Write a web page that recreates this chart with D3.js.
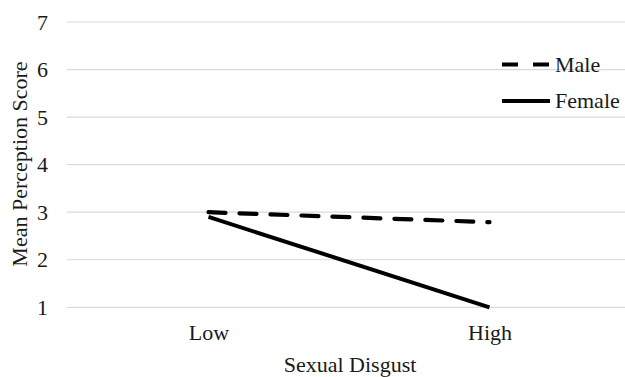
<!DOCTYPE html>
<html>
<head>
<meta charset="utf-8">
<script src="https://cdn.jsdelivr.net/npm/d3@7"></script>
<style>
  html, body { margin: 0; padding: 0; background: #fff; }
</style>
</head>
<body>
<svg id="chart" width="625" height="377"></svg>
<script>
const categories = ["Low", "High"];
const maleValues = [3.0, 2.79];
const femaleValues = [2.9, 1.0];
const yTicks = [1, 2, 3, 4, 5, 6, 7];
const seriesNames = ["Male", "Female"];
const xTitle = "Sexual Disgust";
const yTitle = "Mean Perception Score";

const FONT = "'Times New Roman', 'Liberation Serif', Times, serif";
const FS = 22;
const svg = d3.select("#chart");
const x = d3.scalePoint().domain(categories).range([68, 630]).padding(0.5);
const y = d3.scaleLinear().domain([1, 7]).range([307.3, 22]);

// gridlines
svg.append("g").selectAll("line").data(yTicks).join("line")
  .attr("x1", 67).attr("x2", 625)
  .attr("y1", d => y(d)).attr("y2", d => y(d))
  .attr("stroke", "#d9d9d9").attr("stroke-width", 1.2);

// y axis labels
const yAxis = d3.axisLeft(y).tickValues(yTicks).tickSize(0).tickPadding(0).tickFormat(d3.format("d"));
const gy = svg.append("g").attr("transform", "translate(48,0)").call(yAxis);
gy.select(".domain").remove();
gy.attr("font-family", null).attr("font-size", null);
gy.selectAll("text").style("font-family", FONT).style("font-size", FS + "px").attr("fill", "#1a1a1a");

// x axis labels
const xAxis = d3.axisBottom(x).tickSize(0).tickPadding(0);
const gx = svg.append("g").attr("transform", "translate(0,324)").call(xAxis);
gx.select(".domain").remove();
gx.attr("font-family", null).attr("font-size", null);
gx.selectAll("text").style("font-family", FONT).style("font-size", FS + "px").attr("fill", "#1a1a1a");

// axis titles
svg.append("text").attr("x", 350).attr("y", 371.5).attr("text-anchor", "middle")
  .style("font-family", FONT).style("font-size", FS + "px").attr("fill", "#1a1a1a").text(xTitle);
svg.append("text").attr("transform", "translate(27,164) rotate(-90)").attr("text-anchor", "middle")
  .style("font-family", FONT).style("font-size", FS + "px").attr("fill", "#1a1a1a").text(yTitle);

const line = d3.line().x((d, i) => x(categories[i])).y(d => y(d));

// female solid
svg.append("path").datum(femaleValues).attr("d", line)
  .attr("fill", "none").attr("stroke", "#000").attr("stroke-width", 4);
// male dashed
svg.append("path").datum(maleValues).attr("d", line)
  .attr("fill", "none").attr("stroke", "#000").attr("stroke-width", 4.2)
  .attr("stroke-dasharray", "17,14").attr("stroke-linecap", "round");

// legend
const legend = svg.append("g");
const legY = [64.5, 101];
legend.append("line").attr("x1", 502).attr("x2", 550).attr("y1", legY[0]).attr("y2", legY[0])
  .attr("stroke", "#000").attr("stroke-width", 4.2).attr("stroke-dasharray", "16,15");
legend.append("line").attr("x1", 502).attr("x2", 550).attr("y1", legY[1]).attr("y2", legY[1])
  .attr("stroke", "#000").attr("stroke-width", 4);
legend.selectAll("text.leg").data(seriesNames).join("text").attr("class", "leg")
  .attr("x", 555).attr("y", (d, i) => legY[i] + 7.3)
  .style("font-family", FONT).style("font-size", FS + "px").attr("fill", "#1a1a1a").text(d => d);
</script>
</body>
</html>
